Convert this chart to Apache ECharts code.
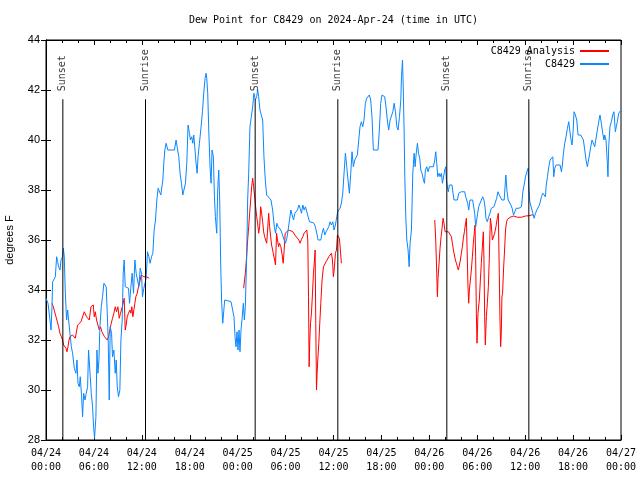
<!DOCTYPE html>
<html><head><meta charset="utf-8">
<script src="https://cdn.jsdelivr.net/npm/echarts@6/dist/echarts.min.js"></script>
<style>html,body{margin:0;padding:0;background:#fff}#c{width:640px;height:480px}</style>
</head><body><div id="c"></div>
<script>
const chartTitle = 'Dew Point for C8429 on 2024-Apr-24 (time in UTC)';
const yAxisName = 'degrees F';
const xTickLabels = ['04/24\n00:00','04/24\n06:00','04/24\n12:00','04/24\n18:00','04/25\n00:00','04/25\n06:00','04/25\n12:00','04/25\n18:00','04/26\n00:00','04/26\n06:00','04/26\n12:00','04/26\n18:00','04/27\n00:00'];
const seriesNames = ['C8429 Analysis', 'C8429'];
// hours since 2024-04-24 00:00 UTC
const sunHours = [2.11, 12.46, 26.19, 36.54, 50.19, 60.46];
const sunNames = ['Sunset', 'Sunrise', 'Sunset', 'Sunrise', 'Sunset', 'Sunrise'];

// [hours, dew point F]
const c8429Obs = [
[0.00,33.67],[0.25,33.47],[0.50,32.80],[0.63,32.40],[0.75,33.33],[0.83,34.33],[1.08,34.33],[1.17,34.53],[1.33,35.33],[1.46,35.13],
[1.58,34.93],[1.75,34.80],[1.88,35.20],[2.08,35.33],[2.17,35.67],[2.29,35.33],[2.42,33.87],[2.58,32.80],[2.71,33.20],[2.83,32.80],
[3.00,32.27],[3.17,31.73],[3.33,31.47],[3.54,30.87],[3.75,30.67],[3.88,31.20],[4.00,30.27],[4.17,30.13],[4.29,30.53],[4.46,29.73],
[4.58,28.93],[4.71,29.87],[4.88,29.60],[5.04,29.87],[5.21,30.13],[5.33,31.60],[5.54,31.53],[5.67,29.87],[5.83,29.33],[5.96,28.53],
[6.08,28.07],[6.25,28.93],[6.38,31.60],[6.50,30.67],[6.63,31.20],[6.75,32.53],[6.92,33.33],[7.08,33.73],[7.25,34.27],[7.42,34.33],
[7.54,34.13],[7.67,33.07],[7.79,32.00],[7.92,29.60],[8.04,32.53],[8.21,32.27],[8.33,31.33],[8.50,31.60],[8.67,30.67],[8.79,31.20],
[8.92,30.13],[9.08,29.73],[9.25,30.00],[9.38,32.00],[9.54,32.80],[9.67,34.67],[9.79,35.20],[9.92,34.13],[10.17,34.07],[10.33,34.07],
[10.46,33.47],[10.63,34.13],[10.79,34.67],[10.96,33.87],[11.13,35.20],[11.29,34.67],[11.46,34.40],[11.63,34.13],[11.79,34.87],[11.96,34.67],
[12.08,33.73],[12.25,34.07],[12.42,34.13],[12.54,34.47],[12.71,35.53],[12.88,35.33],[13.04,35.07],[13.21,35.33],[13.38,35.47],[13.54,36.40],
[13.71,36.80],[13.88,37.60],[14.04,38.07],[14.21,38.13],[14.38,37.80],[14.63,38.40],[14.75,39.07],[14.88,39.60],[15.04,39.87],[15.25,39.60],
[15.67,39.60],[16.08,39.60],[16.29,40.00],[16.42,39.73],[16.63,39.33],[16.79,38.67],[16.96,38.27],[17.13,37.80],[17.34,37.73],[17.46,38.27],
[17.63,39.07],[17.79,40.60],[17.96,40.27],[18.09,40.00],[18.25,40.13],[18.38,39.87],[18.50,40.20],[18.63,39.73],[18.79,39.07],[18.92,38.67],
[19.04,39.33],[19.21,39.87],[19.42,40.53],[19.59,41.13],[19.75,41.87],[19.92,42.47],[20.04,42.67],[20.13,42.47],[20.25,41.87],[20.38,40.40],
[20.54,38.93],[20.67,38.27],[20.79,39.60],[20.96,39.33],[21.09,37.73],[21.21,36.93],[21.38,36.27],[21.50,38.00],[21.63,38.80],[21.75,37.60],
[21.88,34.93],[22.00,33.47],[22.13,32.67],[22.25,33.13],[22.38,33.60],[22.75,33.57],[23.17,33.53],[23.38,33.47],[23.54,32.93],[23.67,32.13],
[23.79,31.73],[23.92,32.33],[24.04,31.60],[24.17,32.40],[24.29,31.53],[24.42,32.40],[24.54,32.80],[24.71,33.47],[24.84,32.80],[24.96,33.33],
[25.13,35.33],[25.25,37.60],[25.38,38.67],[25.54,40.53],[25.71,40.93],[25.88,41.33],[26.04,41.87],[26.21,41.60],[26.38,41.73],[26.50,42.00],
[26.63,41.73],[26.79,41.20],[26.96,41.27],[27.13,40.80],[27.29,39.33],[27.46,38.40],[27.63,37.80],[27.88,37.73],[28.17,37.60],[28.38,37.20],
[28.59,36.53],[28.74,36.27],[28.91,36.67],[29.07,36.53],[29.24,36.47],[29.41,36.40],[29.66,36.33],[29.82,36.00],[29.99,35.87],[30.16,36.07],
[30.32,36.40],[30.49,36.80],[30.66,37.20],[30.82,37.00],[30.99,36.80],[31.16,37.07],[31.32,37.00],[31.49,37.20],[31.66,37.40],[31.82,37.27],
[31.99,37.07],[32.16,37.40],[32.32,37.20],[32.49,37.33],[32.66,37.13],[32.82,36.93],[32.99,36.73],[33.24,36.73],[33.49,36.69],[33.66,36.60],
[33.82,36.40],[33.95,36.20],[34.07,36.00],[34.24,35.93],[34.41,36.00],[34.57,36.27],[34.74,36.47],[34.91,36.20],[35.07,36.33],[35.24,36.40],
[35.41,36.53],[35.57,36.73],[35.74,36.60],[35.91,36.73],[36.07,36.40],[36.24,36.60],[36.41,36.93],[36.53,37.13],[36.66,37.07],[36.82,37.27],
[36.99,37.47],[37.16,37.87],[37.32,38.67],[37.49,39.47],[37.66,38.93],[37.82,38.40],[37.99,37.87],[38.16,38.67],[38.32,39.53],[38.49,38.93],
[38.66,39.20],[38.82,39.27],[38.99,39.40],[39.16,40.00],[39.32,40.53],[39.49,40.73],[39.66,40.53],[39.82,40.80],[39.99,41.47],[40.16,41.67],
[40.32,41.67],[40.49,41.80],[40.66,41.60],[40.82,40.93],[40.99,39.60],[41.24,39.60],[41.57,39.60],[41.74,40.40],[41.91,41.47],[42.07,41.80],
[42.24,41.73],[42.41,41.73],[42.57,41.33],[42.74,40.80],[42.91,40.40],[43.09,40.80],[43.26,40.73],[43.43,41.13],[43.59,41.47],[43.76,41.13],
[43.93,40.53],[44.09,40.40],[44.26,40.93],[44.43,41.60],[44.51,42.53],[44.64,43.20],[44.72,42.27],[44.84,40.40],[44.93,38.53],[45.05,36.93],
[45.18,36.00],[45.34,35.60],[45.47,34.93],[45.59,35.87],[45.76,36.40],[45.93,38.67],[46.09,39.47],[46.22,38.93],[46.34,39.40],[46.51,39.87],
[46.64,39.47],[46.80,39.27],[46.93,38.80],[47.09,38.67],[47.26,38.40],[47.39,38.27],[47.51,38.80],[47.68,38.93],[47.84,38.73],[48.01,38.93],
[48.26,38.89],[48.51,38.93],[48.68,39.20],[48.80,39.53],[48.93,39.07],[49.05,38.53],[49.22,38.67],[49.34,38.53],[49.51,38.67],[49.64,38.27],
[49.76,38.27],[49.93,38.80],[50.05,38.93],[50.14,38.40],[50.26,38.13],[50.38,37.93],[50.51,38.20],[50.68,38.27],[50.84,38.20],[50.97,37.87],
[51.09,37.60],[51.51,37.60],[51.68,37.87],[52.01,37.93],[52.43,37.93],[52.55,37.73],[52.68,37.60],[52.80,37.47],[52.93,37.20],[53.09,37.60],
[53.43,37.60],[53.55,37.33],[53.68,37.07],[53.80,36.53],[53.93,36.80],[54.05,37.07],[54.18,37.33],[54.34,37.40],[54.51,37.60],[54.68,37.73],
[54.84,37.60],[54.97,37.33],[55.09,36.87],[55.26,36.73],[55.43,36.93],[55.59,37.07],[55.76,37.27],[56.09,37.33],[56.26,37.33],[56.43,37.67],
[56.59,37.93],[56.76,37.80],[56.93,37.87],[57.09,37.60],[57.37,37.60],[57.50,37.60],[57.58,38.60],[57.71,38.00],[57.87,37.60],[58.04,37.53],
[58.21,37.40],[58.37,37.27],[58.54,37.00],[58.71,37.13],[58.87,37.27],[59.21,37.27],[59.54,37.33],[59.71,37.93],[59.87,38.20],[60.04,38.53],
[60.21,38.73],[60.37,38.87],[60.46,38.13],[60.58,37.53],[60.79,37.49],[60.96,37.07],[61.12,36.87],[61.29,37.07],[61.46,37.20],[61.62,37.27],
[61.79,37.40],[61.96,37.47],[62.04,37.73],[62.21,37.87],[62.37,37.93],[62.54,37.73],[62.62,38.13],[62.79,38.53],[62.96,38.93],[63.12,39.20],
[63.29,39.27],[63.46,39.33],[63.58,38.53],[63.71,38.87],[63.87,39.00],[64.37,39.00],[64.54,38.73],[64.66,39.00],[64.79,39.47],[64.96,39.87],
[65.12,40.13],[65.29,40.47],[65.46,40.73],[65.58,40.40],[65.71,40.07],[65.87,39.80],[66.00,40.33],[66.12,41.13],[66.29,41.00],[66.46,40.80],
[66.62,40.20],[66.96,40.20],[67.12,40.13],[67.29,40.00],[67.46,39.60],[67.62,39.20],[67.79,38.93],[67.96,38.87],[68.08,39.47],[68.21,39.73],
[68.37,40.00],[68.54,40.00],[68.71,39.73],[68.87,39.67],[69.04,40.40],[69.21,40.73],[69.37,41.00],[69.54,40.67],[69.71,40.27],[69.87,40.00],
[69.96,40.20],[70.12,40.00],[70.29,39.07],[70.37,38.53],[70.46,39.73],[70.62,40.53],[70.79,40.73],[70.96,41.00],[71.12,41.13],[71.29,40.33],
[71.41,40.53],[71.54,40.73],[71.71,41.07],[71.87,41.13],[72.00,41.20]
];

// [hours, dew point F]; null marks a gap in the analysis
const analysisObs = [
[0.75,33.47],[0.92,33.33],[1.08,33.13],[1.25,32.93],[1.42,32.73],[1.58,32.53],[1.75,32.27],[1.92,32.13],[2.08,32.00],[2.21,31.80],
[2.33,31.87],[2.50,31.67],[2.63,31.53],[2.75,31.73],[2.88,32.00],[3.00,32.13],[3.17,32.07],[3.33,32.20],[3.50,32.13],[3.67,32.07],
[3.83,32.07],[3.96,32.60],[4.17,32.67],[4.38,32.73],[4.58,32.80],[4.79,33.13],[4.92,33.07],[5.08,32.93],[5.25,32.87],[5.42,32.80],
[5.63,33.33],[5.75,33.33],[5.92,33.40],[6.04,32.93],[6.17,33.13],[6.33,32.80],[6.50,32.60],[6.67,32.40],[6.83,32.53],[7.00,32.33],
[7.17,32.27],[7.33,32.13],[7.50,32.07],[7.67,32.00],[7.83,32.13],[8.00,32.40],[8.17,32.67],[8.33,32.87],[8.50,33.07],[8.67,33.33],
[8.83,33.13],[9.00,33.33],[9.17,32.87],[9.33,33.07],[9.50,33.13],[9.67,33.47],[9.79,33.67],[9.92,32.40],[10.04,32.60],[10.17,32.93],
[10.33,33.07],[10.50,33.20],[10.63,33.07],[10.75,33.33],[10.88,32.93],[11.00,33.20],[11.13,33.47],[11.25,33.73],[11.42,33.87],[11.58,34.13],
[11.75,34.33],[11.92,34.60],[12.08,34.67],[12.25,34.53],[12.58,34.53],[12.92,34.47],[13.0,null],
[24.75,34.07],[24.88,34.07],[25.00,34.80],[25.13,35.40],[25.25,36.00],[25.38,36.53],[25.50,37.07],[25.63,37.60],[25.75,38.13],[25.88,38.47],
[26.00,38.13],[26.13,37.73],[26.25,37.33],[26.38,36.93],[26.50,36.67],[26.63,36.27],[26.75,36.53],[26.88,37.33],[27.00,37.07],[27.13,36.73],
[27.25,36.33],[27.38,36.13],[27.50,36.00],[27.63,35.87],[27.75,36.40],[27.88,37.07],[28.00,36.53],[28.13,36.13],[28.25,35.80],[28.38,35.60],
[28.50,35.40],[28.63,35.20],[28.74,35.00],[28.87,36.27],[28.99,36.00],[29.12,35.73],[29.24,35.87],[29.41,35.73],[29.57,35.40],[29.70,35.07],
[29.82,35.60],[29.95,36.27],[30.16,36.33],[30.41,36.40],[30.66,36.43],[30.91,36.33],[31.16,36.20],[31.41,36.13],[31.66,36.00],[31.82,35.87],
[31.99,36.03],[32.16,36.13],[32.32,36.27],[32.49,36.33],[32.66,36.40],[32.78,36.00],[32.87,33.73],[32.95,30.93],[33.03,32.00],[33.12,32.67],
[33.24,33.07],[33.37,33.87],[33.49,34.67],[33.62,35.20],[33.70,35.60],[33.78,32.67],[33.87,30.00],[33.95,30.67],[34.03,31.20],[34.16,31.87],
[34.28,32.67],[34.41,33.47],[34.57,34.40],[34.74,34.93],[34.91,35.00],[35.07,35.13],[35.24,35.20],[35.41,35.33],[35.57,35.40],[35.74,35.47],
[35.87,35.20],[35.99,34.53],[36.12,34.93],[36.24,35.47],[36.37,35.60],[36.49,36.20],[36.62,36.27],[36.74,36.07],[36.87,36.00],[36.99,35.07],
[37.1,null],
[48.68,36.80],[48.80,36.00],[48.93,34.67],[49.01,33.73],[49.09,34.47],[49.22,35.07],[49.34,35.67],[49.47,36.13],[49.59,36.47],[49.72,36.87],
[49.84,36.67],[49.97,36.33],[50.18,36.29],[50.39,36.33],[50.59,36.27],[50.76,36.13],[50.89,35.87],[51.01,35.60],[51.14,35.40],[51.26,35.20],
[51.39,35.07],[51.51,34.93],[51.64,34.80],[51.76,34.87],[51.89,35.20],[52.01,35.47],[52.14,35.73],[52.26,36.07],[52.39,36.33],[52.51,36.60],
[52.64,36.87],[52.76,35.20],[52.84,34.13],[52.93,33.47],[53.01,34.00],[53.14,34.40],[53.26,34.80],[53.39,35.33],[53.51,35.87],[53.64,36.33],
[53.72,36.60],[53.80,35.33],[53.89,33.07],[53.97,31.87],[54.09,33.07],[54.26,33.60],[54.39,34.40],[54.51,35.07],[54.64,35.73],[54.76,36.33],
[54.84,35.20],[54.93,32.93],[55.01,31.80],[55.14,32.93],[55.26,33.47],[55.39,34.13],[55.51,35.27],[55.64,36.87],[55.76,36.60],[55.89,36.00],
[56.01,36.07],[56.18,36.27],[56.34,36.53],[56.51,36.87],[56.64,37.07],[56.76,34.67],[56.84,32.93],[56.93,31.73],[57.01,32.27],[57.09,33.73],
[57.17,33.87],[57.29,34.80],[57.42,35.60],[57.54,36.40],[57.67,36.73],[57.79,36.83],[58.12,36.91],[58.54,36.96],[59.04,36.91],[59.54,36.91],
[60.04,36.96],[60.46,36.97],[60.79,37.00],[61.00,37.00]
];

const MONO = 'DejaVu Sans Mono';
const SANS = 'Liberation Sans';
const SUN_LINE_TOP = 41.63;

const sunLineData = [];
sunHours.forEach(h => { sunLineData.push([h, 28], [h, SUN_LINE_TOP], [h, null]); });
const sunLabelData = sunHours.map((h, i) => ({ value: [h, SUN_LINE_TOP], name: sunNames[i] }));

const chart = echarts.init(document.getElementById('c'), null, { renderer: 'canvas' });
chart.setOption({
  animation: false,
  backgroundColor: '#fff',
  title: {
    text: chartTitle, left: 189, top: 15, padding: 0,
    textStyle: { fontFamily: MONO, fontSize: 10, fontWeight: 'normal', color: '#000' }
  },
  legend: {
    data: seriesNames, orient: 'vertical', right: 30, top: 45, align: 'right',
    itemWidth: 29, itemHeight: 12, itemGap: 1, padding: 0,
    itemStyle: { opacity: 0 },
    textStyle: { fontFamily: MONO, fontSize: 10, color: '#000', lineHeight: 12 }
  },
  grid: { left: 46, right: 19, top: 40, bottom: 40, show: true, borderColor: '#000', borderWidth: 1, outerBoundsMode: 'none', containLabel: false },
  xAxis: [{
    type: 'value', min: 0, max: 72, interval: 6, position: 'bottom',
    axisLine: { show: true, lineStyle: { color: '#000', width: 1 } },
    axisTick: { show: true, inside: true, length: 5, lineStyle: { color: '#000' } },
    minorTick: { show: true, splitNumber: 3, length: 3, lineStyle: { color: '#000' } },
    splitLine: { show: false },
    axisLabel: {
      margin: 6, fontFamily: MONO, fontSize: 10, color: '#000', lineHeight: 14,
      formatter: v => xTickLabels[Math.round(v / 6)]
    }
  }, {
    type: 'value', min: 0, max: 72, interval: 6, position: 'top',
    axisLine: { show: true, lineStyle: { color: '#000', width: 1 } },
    axisTick: { show: true, inside: true, length: 5, lineStyle: { color: '#000' } },
    minorTick: { show: true, splitNumber: 3, length: 3, lineStyle: { color: '#000' } },
    splitLine: { show: false }, axisLabel: { show: false }
  }],
  yAxis: [{
    type: 'value', min: 28, max: 44, interval: 2, position: 'left',
    name: yAxisName, nameLocation: 'middle', nameRotate: 90, nameGap: 31,
    nameTextStyle: { fontFamily: SANS, fontSize: 11, color: '#000' },
    axisLine: { show: true, lineStyle: { color: '#000', width: 1 } },
    axisTick: { show: true, inside: true, length: 5, lineStyle: { color: '#000' } },
    splitLine: { show: false },
    axisLabel: { margin: 6, fontFamily: SANS, fontSize: 11, color: '#000' }
  }, {
    type: 'value', min: 28, max: 44, interval: 2, position: 'right',
    axisLine: { show: true, lineStyle: { color: '#000', width: 1 } },
    axisTick: { show: true, inside: true, length: 5, lineStyle: { color: '#000' } },
    splitLine: { show: false }, axisLabel: { show: false }
  }],
  series: [{
    name: seriesNames[0], type: 'line', data: analysisObs, showSymbol: false, symbol: 'none',
    connectNulls: false, color: '#ff0000', lineStyle: { color: '#ff0000', width: 1 }, z: 2
  }, {
    name: seriesNames[1], type: 'line', data: c8429Obs, showSymbol: false, symbol: 'none',
    color: '#0a86ff', lineStyle: { color: '#0a86ff', width: 1 }, z: 3
  }, {
    name: 'sun', type: 'line', data: sunLineData, showSymbol: false, symbol: 'none',
    connectNulls: false, lineStyle: { color: '#000', width: 1 }, z: 4, silent: true
  }, {
    name: 'sunLabels', type: 'scatter', data: sunLabelData, symbolSize: 0, z: 5, silent: true,
    label: {
      show: true, formatter: p => p.name, position: 'top', distance: 7, rotate: 90,
      align: 'left', verticalAlign: 'middle', offset: [1, 0],
      fontFamily: MONO, fontSize: 10, color: '#000'
    }
  }]
});
</script></body></html>
